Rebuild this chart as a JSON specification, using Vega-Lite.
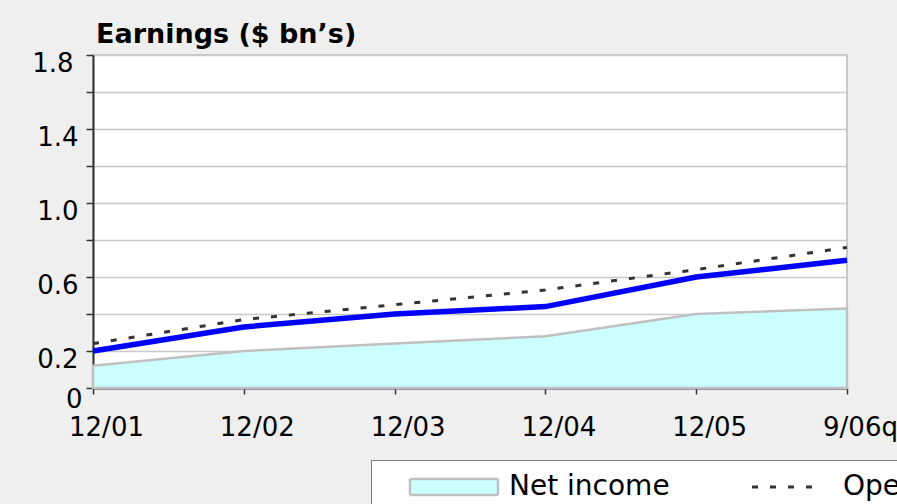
{
  "$schema": "https://vega.github.io/schema/vega-lite/v6.json",
  "autosize": "none",
  "width": 754,
  "height": 333,
  "padding": {"left": 93, "top": 55, "right": 50, "bottom": 116},
  "background": "#efefef",
  "title": {
    "text": "Earnings ($ bn’s)",
    "anchor": "start",
    "frame": "group",
    "font": "DejaVu Sans",
    "fontSize": 27,
    "fontWeight": "bold",
    "color": "#000000",
    "offset": 1,
    "dx": 3
  },
  "config": {
    "view": {"fill": "#ffffff", "stroke": "#c8c8c8", "strokeWidth": 2},
    "axis": {
      "labelFont": "DejaVu Sans",
      "labelFontSize": 26,
      "labelColor": "#000000",
      "domainColor": "#333333",
      "domainWidth": 2,
      "tickColor": "#333333",
      "tickWidth": 1.5,
      "title": null
    }
  },
  "data": {
    "values": [
      {"period": "12/01", "series": "Net income", "value": 0.12},
      {"period": "12/02", "series": "Net income", "value": 0.20},
      {"period": "12/03", "series": "Net income", "value": 0.24},
      {"period": "12/04", "series": "Net income", "value": 0.28},
      {"period": "12/05", "series": "Net income", "value": 0.40},
      {"period": "9/06q", "series": "Net income", "value": 0.43},
      {"period": "12/01", "series": "Operating earnings", "value": 0.24},
      {"period": "12/02", "series": "Operating earnings", "value": 0.37},
      {"period": "12/03", "series": "Operating earnings", "value": 0.45},
      {"period": "12/04", "series": "Operating earnings", "value": 0.53},
      {"period": "12/05", "series": "Operating earnings", "value": 0.64},
      {"period": "9/06q", "series": "Operating earnings", "value": 0.76},
      {"period": "12/01", "series": "Pre-tax earnings", "value": 0.20},
      {"period": "12/02", "series": "Pre-tax earnings", "value": 0.33},
      {"period": "12/03", "series": "Pre-tax earnings", "value": 0.40},
      {"period": "12/04", "series": "Pre-tax earnings", "value": 0.44},
      {"period": "12/05", "series": "Pre-tax earnings", "value": 0.60},
      {"period": "9/06q", "series": "Pre-tax earnings", "value": 0.69}
    ]
  },
  "encoding": {
    "x": {
      "field": "period",
      "type": "ordinal",
      "sort": null,
      "scale": {"type": "point", "padding": 0},
      "axis": {
        "labelAngle": 0,
        "labelOffset": 13,
        "labelPadding": 20,
        "tickSize": 6,
        "grid": false
      }
    },
    "y": {
      "field": "value",
      "type": "quantitative",
      "stack": null,
      "scale": {"domain": [0, 1.8], "nice": false, "zero": true},
      "axis": {
        "values": [0, 0.2, 0.4, 0.6, 0.8, 1.0, 1.2, 1.4, 1.6, 1.8],
        "labelExpr": "datum.value === 0 ? '0' : (round(datum.value * 10) % 4 === 2 ? format(datum.value, '.1f') : '')",
        "grid": true,
        "gridColor": "#c8c8c8",
        "gridWidth": 1.5,
        "tickSize": 7,
        "labelPadding": {
          "condition": [
            {"test": "datum.value === 0", "value": 4},
            {"test": "datum.value === 1.8", "value": 13}
          ],
          "value": 8
        },
        "labelOffset": {
          "condition": {"test": "datum.value === 0", "value": 11},
          "value": 8
        }
      }
    },
    "fill": {
      "field": "series",
      "type": "nominal",
      "scale": {
        "domain": ["Net income", "Operating earnings", "Pre-tax earnings"],
        "range": ["#ccffff", "transparent", "transparent"]
      },
      "legend": {
        "orient": "none",
        "legendX": 278,
        "legendY": 405,
        "direction": "horizontal",
        "title": null,
        "fillColor": "#ffffff",
        "strokeColor": "#808080",
        "padding": 13,
        "symbolSize": 256,
        "symbolOffset": 56,
        "labelOffset": 41,
        "columnPadding": 48,
        "labelFont": "DejaVu Sans",
        "labelFontSize": 28,
        "labelColor": "#000000",
        "labelLimit": 400,
        "encode": {
          "symbols": {
            "update": {
              "shape": {"signal": "datum.value === 'Net income' ? 'M-5.5,-1H5.5V1H-5.5Z' : 'M-4.5,0H4.5'"},
              "strokeWidth": {"signal": "datum.value === 'Net income' ? 2.5 : (datum.value === 'Operating earnings' ? 3 : 5)"},
              "strokeDash": {"signal": "datum.value === 'Operating earnings' ? [6, 12] : [1, 0]"},
              "opacity": {"value": 1}
            }
          }
        }
      }
    },
    "stroke": {
      "field": "series",
      "type": "nominal",
      "scale": {
        "domain": ["Net income", "Operating earnings", "Pre-tax earnings"],
        "range": ["#c0c0c0", "#333333", "#0000ff"]
      },
      "legend": {
        "orient": "none",
        "legendX": 278,
        "legendY": 405,
        "direction": "horizontal",
        "title": null,
        "fillColor": "#ffffff",
        "strokeColor": "#808080",
        "padding": 13,
        "symbolSize": 256,
        "symbolOffset": 56,
        "labelOffset": 41,
        "columnPadding": 48,
        "labelFont": "DejaVu Sans",
        "labelFontSize": 28,
        "labelColor": "#000000",
        "labelLimit": 400,
        "encode": {
          "symbols": {
            "update": {
              "shape": {"signal": "datum.value === 'Net income' ? 'M-5.5,-1H5.5V1H-5.5Z' : 'M-4.5,0H4.5'"},
              "strokeWidth": {"signal": "datum.value === 'Net income' ? 2.5 : (datum.value === 'Operating earnings' ? 3 : 5)"},
              "strokeDash": {"signal": "datum.value === 'Operating earnings' ? [6, 12] : [1, 0]"},
              "opacity": {"value": 1}
            }
          }
        }
      }
    }
  },
  "layer": [
    {
      "transform": [{"filter": "datum.series === 'Net income'"}],
      "mark": {"type": "area", "strokeWidth": 2.5, "opacity": 1}
    },
    {
      "transform": [{"filter": "datum.series === 'Operating earnings'"}],
      "mark": {"type": "line", "strokeWidth": 3, "strokeDash": [6, 12]}
    },
    {
      "transform": [{"filter": "datum.series === 'Pre-tax earnings'"}],
      "mark": {"type": "line", "strokeWidth": 5.5}
    }
  ]
}
